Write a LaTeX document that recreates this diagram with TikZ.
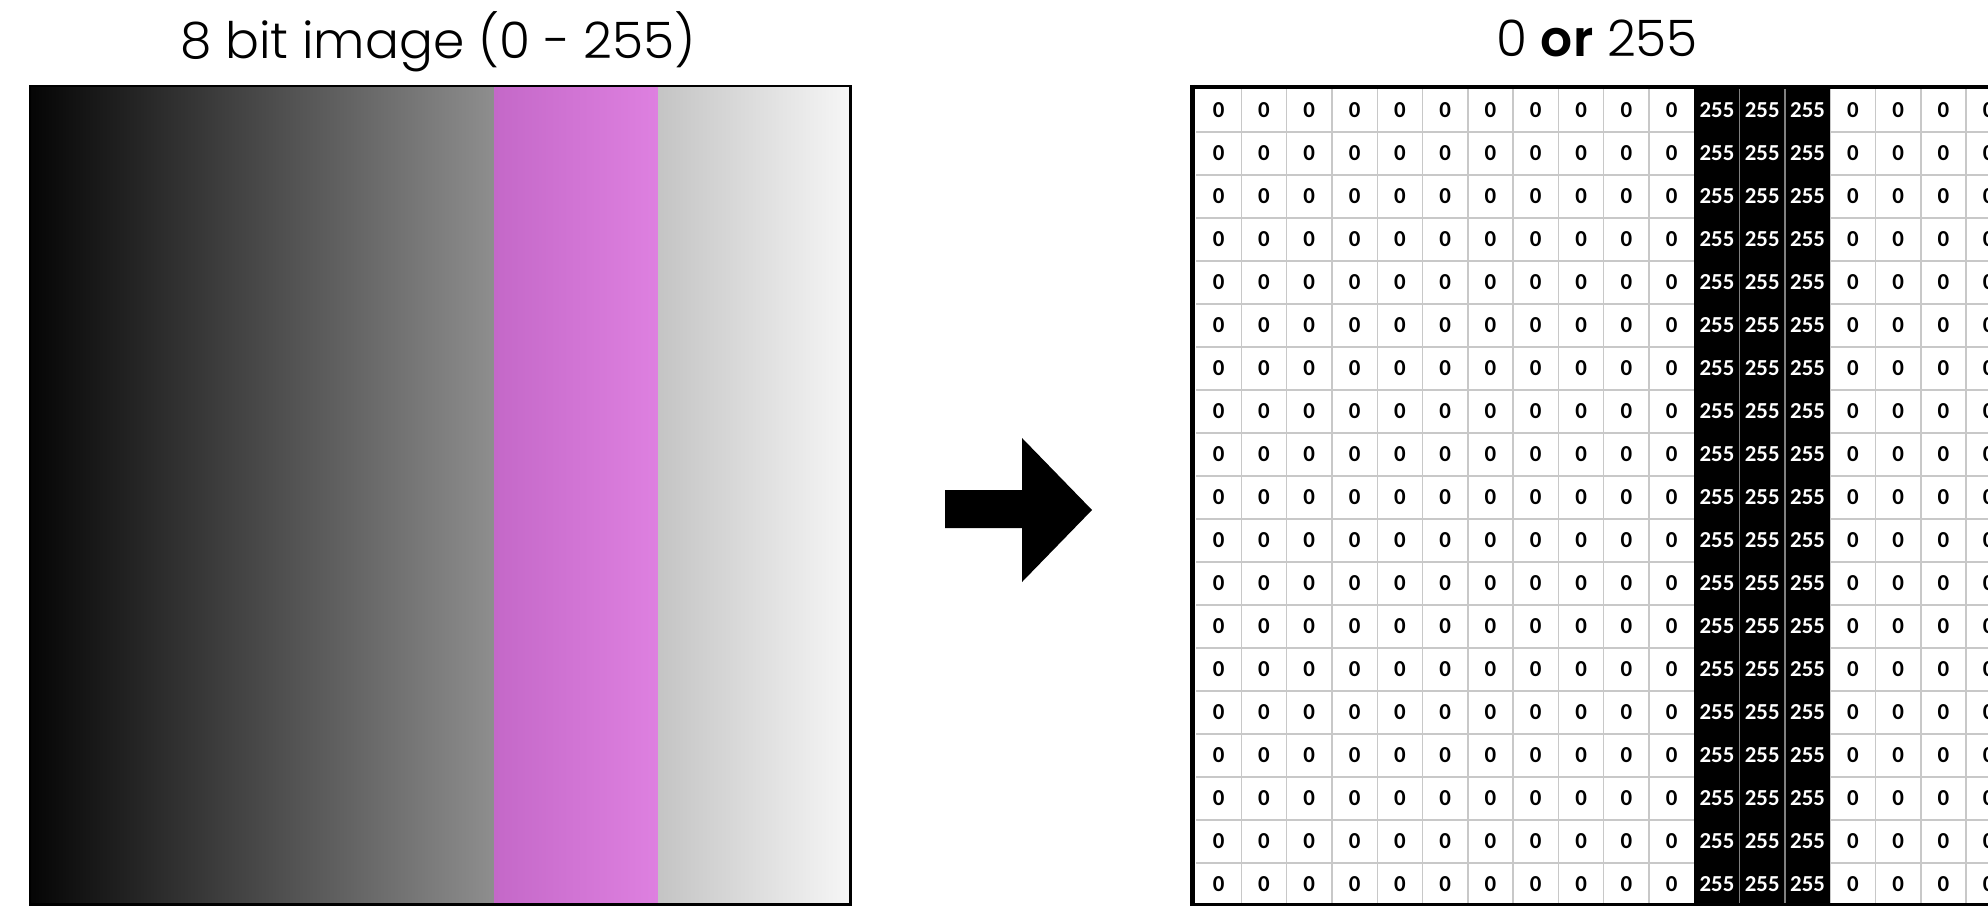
\documentclass[tikz,border=0pt]{standalone}
\usepackage{fontspec}
\newfontfamily\titlefont{Poppins}[UprightFont=* Light,BoldFont=* SemiBold]
\newfontfamily\cellfont{Carlito}[UprightFont=* Bold]
\definecolor{barleft}{HTML}{050505}
\definecolor{barmid}{HTML}{8E8E8E}
\definecolor{purpleleft}{HTML}{C468C8}
\definecolor{purpleright}{HTML}{DE80E0}
\definecolor{greyleft}{HTML}{C4C4C4}
\definecolor{greyright}{HTML}{F6F6F6}
\definecolor{gridgrey}{HTML}{C8C8C8}
\definecolor{darkgrid}{HTML}{808080}
\begin{document}
\begin{tikzpicture}[x=0.1mm,y=-0.1mm,line join=miter,
  title/.style={font=\titlefont\fontsize{14.3pt}{17pt}\selectfont,inner sep=0pt,anchor=base},
  cellzero/.style={font=\cellfont\fontsize{6.5pt}{7.5pt}\selectfont,inner sep=0pt},
  cellhigh/.style={cellzero,text=white},
  gridline/.style={draw=gridgrey,line width=0.4pt}]
  \useasboundingbox (0,0) rectangle (1988,906);
  \node[title] (leftTitle) at (438,59) {8 bit image (0 - 255)};
  \node[title] (rightTitle) at (1597,57) {0 {\bfseries or} 255};
  \shade[left color=barleft,right color=barmid] (30,86) rectangle (494,904);
  \shade[left color=purpleleft,right color=purpleright] (494,86) rectangle (658,902);
  \shade[left color=greyleft,right color=greyright] (658,86) rectangle (850,904);
  \draw[line width=0.85pt] (30,86) rectangle (850,904);
  \fill (945,490) -- (1022,490) -- (1022,438) -- (1092,510) -- (1022,582) -- (1022,528) -- (945,528) -- cycle;
  \begin{scope}
    \clip (0,0) rectangle (1988,906);
    \foreach \k in {1,...,18}
      \draw[gridline] (1196,{89+43*\k}) -- (1988,{89+43*\k});
    \foreach \c in {1,...,17}
      \draw[gridline] ({1196+45.3*\c},88) -- ({1196+45.3*\c},904);
    \fill (1694.3,88) rectangle (1830.2,904);
    \foreach \c in {12,13}
      \draw[draw=darkgrid,line width=0.4pt] ({1196+45.3*\c},88) -- ({1196+45.3*\c},904);
    \draw[line width=1.1pt] (1190,87) -- (1988,87);
    \draw[line width=1.4pt] (1192.5,85) -- (1192.5,906);
    \draw[line width=0.85pt] (1192,904.5) -- (1988,904.5);
    \foreach \r in {0,...,18} {
      \foreach \c in {0,...,10,14,15,16,17}
        \node[cellzero] (zero-\r-\c) at ({1196+45.3*(\c+0.5)},{110.5+43*\r}) {0};
      \foreach \c in {11,12,13}
        \node[cellhigh] (high-\r-\c) at ({1196+45.3*(\c+0.5)},{110.5+43*\r}) {255};
    }
  \end{scope}
\end{tikzpicture}
\end{document}
